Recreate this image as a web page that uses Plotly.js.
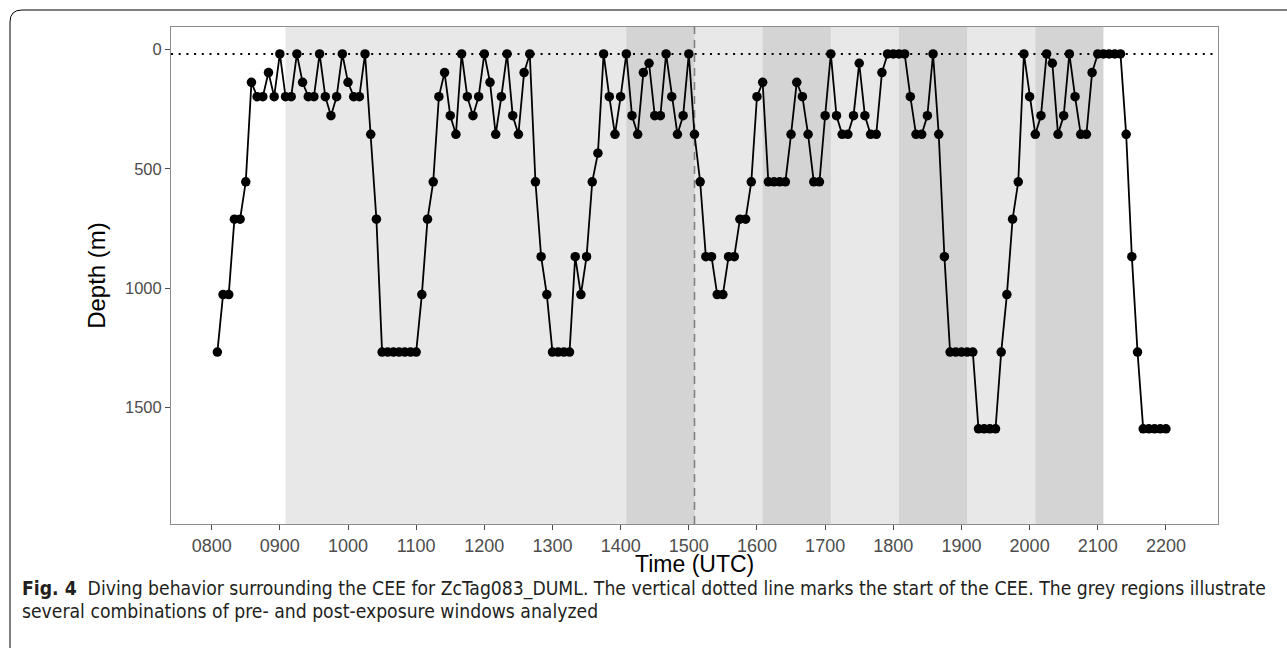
<!DOCTYPE html>
<html>
<head>
<meta charset="utf-8">
<script src="https://cdn.plot.ly/plotly-3.0.1.min.js"></script>
<style>
html,body{margin:0;padding:0;background:#fff;}
#chart{width:1287px;height:648px;}
</style>
</head>
<body>
<div id="chart"></div>
<script>
// Sample times (HHMM, UTC)
var times = [
"0805","0810","0815","0820","0825","0830","0835","0840","0845","0850","0855",
"0900","0905","0910","0915","0920","0925","0930","0935","0940","0945","0950","0955",
"1000","1005","1010","1015","1020","1025","1030","1035","1040","1045","1050","1055",
"1100","1105","1110","1115","1120","1125","1130","1135","1140","1145","1150","1155",
"1200","1205","1210","1215","1220","1225","1230","1235","1240","1245","1250","1255",
"1300","1305","1310","1315","1320","1325","1330","1335","1340","1345","1350","1355",
"1400","1405","1410","1415","1420","1425","1430","1435","1440","1445","1450","1455",
"1500","1505","1510","1515","1520","1525","1530","1535","1540","1545","1550","1555",
"1600","1605","1610","1615","1620","1625","1630","1635","1640","1645","1650","1655",
"1700","1705","1710","1715","1720","1725","1730","1735","1740","1745","1750","1755",
"1800","1805","1810","1815","1820","1825","1830","1835","1840","1845","1850","1855",
"1900","1905","1910","1915","1920","1925","1930","1935","1940","1945","1950","1955",
"2000","2005","2010","2015","2020","2025","2030","2035","2040","2045","2050","2055",
"2100","2105","2110","2115","2120","2125","2130","2135","2140","2145","2150","2155",
"2200"
];
// Depth (m) at each sample
var depths = [
1268,1027,1027,711,711,554,137,197,197,96,197,
18,197,197,18,137,197,197,18,197,277,197,
18,137,197,197,18,355,711,1268,1268,1268,1268,
1268,1268,1268,1027,711,554,197,96,277,355,
18,197,277,197,18,137,355,197,18,277,355,
96,18,554,868,1027,1268,1268,1268,1268,868,1027,
868,554,434,18,197,355,197,18,277,355,96,
57,277,277,18,197,355,277,18,355,554,868,
868,1027,1027,868,868,711,711,554,197,137,554,
554,554,554,355,137,197,355,554,554,277,18,
277,355,355,277,57,277,355,355,96,18,18,
18,18,197,355,355,277,18,355,868,1268,1268,
1268,1268,1268,1590,1590,1590,1590,1268,1027,711,554,
18,197,355,277,18,57,355,277,18,197,355,
355,96,18,18,18,18,18,355,868,1268,1590,
1590,1590,1590,1590
];
var xTickVals = ["0800","0900","1000","1100","1200","1300","1400","1500","1600","1700","1800","1900","2000","2100","2200"];
var yTickVals = [0,500,1000,1500];
var surfaceDepth = 18;
var ceeStart = "1505";
var lightWindow = ["0905","2005"];
var darkWindows = [["1405","1505"],["1605","1705"],["1805","1905"],["2005","2105"]];

function toHours(s){ return parseInt(s.slice(0,2),10) + parseInt(s.slice(2),10)/60; }

var xs = times.map(toHours);

var shapes = [];
shapes.push({type:'rect', xref:'x', yref:'paper', x0:toHours(lightWindow[0]), x1:toHours(lightWindow[1]), y0:0, y1:1,
  fillcolor:'#E8E8E8', line:{width:0}, layer:'below'});
darkWindows.forEach(function(w){
  shapes.push({type:'rect', xref:'x', yref:'paper', x0:toHours(w[0]), x1:toHours(w[1]), y0:0, y1:1,
    fillcolor:'#D4D4D4', line:{width:0}, layer:'below'});
});
shapes.push({type:'line', xref:'paper', yref:'y', x0:0, x1:1, y0:surfaceDepth, y1:surfaceDepth,
  line:{color:'#000', width:2, dash:'2px,5.7px'}, layer:'below'});
shapes.push({type:'line', xref:'x', yref:'paper', x0:toHours(ceeStart), x1:toHours(ceeStart), y0:0, y1:1,
  line:{color:'#808080', width:1.6, dash:'8px,6px'}, layer:'below'});

// outer figure frame with rounded top-left corner
var L = 171, R = 1218, T = 27, B = 524;
var pw = R-L, ph = B-T;
function px(x){ return (x-L)/pw; }
function py(y){ return (B-y)/ph; }
var rr = 12;
var fx0 = px(10), fy1 = py(10), fx1 = px(1300), fy0 = py(660);
shapes.push({type:'path', xref:'paper', yref:'paper',
  path:'M '+fx0+','+fy0+' L '+fx0+','+py(10+rr)+' Q '+fx0+','+fy1+' '+px(10+rr)+','+fy1+' L '+fx1+','+fy1,
  line:{color:'#000', width:1}, fillcolor:'rgba(0,0,0,0)'});

var trace = {
  x: xs, y: depths, type:'scatter', mode:'lines+markers',
  line:{color:'#000', width:1.8},
  marker:{color:'#000', size:9.5},
  hoverinfo:'x+y', showlegend:false, cliponaxis:false
};

var capFont = "'Liberation Sans Narrow','DejaVu Sans Condensed','Liberation Sans',sans-serif";

var layout = {
  width:1287, height:648,
  margin:{l:L, r:1287-R, t:T, b:648-B},
  paper_bgcolor:'#fff', plot_bgcolor:'#fff',
  font:{family:"'Liberation Sans',Arial,sans-serif"},
  xaxis:{
    range:[7.403, 22.764], tickvals:xTickVals.map(toHours), ticktext:xTickVals,
    showgrid:false, zeroline:false, showline:true, linecolor:'#8c8c8c', linewidth:1, mirror:true,
    ticks:'outside', ticklen:5, tickcolor:'#4d4d4d', tickwidth:1,
    ticklabelstandoff:0,
    tickfont:{size:18, color:'#4d4d4d'}
  },
  yaxis:{
    range:[1989, -95], tickvals:yTickVals, ticktext:yTickVals.map(String),
    showgrid:false, zeroline:false, showline:true, linecolor:'#8c8c8c', linewidth:1, mirror:true,
    ticks:'outside', ticklen:5, tickcolor:'#4d4d4d', tickwidth:1,
    tickfont:{size:16.5, color:'#4d4d4d'},
    title:{text:'Depth (m)', font:{size:24, color:'#000'}, standoff:12}
  },
  shapes:shapes,
  annotations:[
    {xref:'paper', yref:'paper', x:0.5, y:py(564), xanchor:'center', yanchor:'middle', showarrow:false,
     text:'Time (UTC)', font:{size:23, color:'#000'}},
    {xref:'paper', yref:'paper', x:px(20), y:py(588), xanchor:'left', yanchor:'middle', showarrow:false,
     text:'<b>Fig. 4</b>  Diving behavior surrounding the CEE for ZcTag083_DUML. The vertical dotted line marks the start of the CEE. The grey regions illustrate',
     font:{family:capFont, size:19.2, color:'#231f20'}},
    {xref:'paper', yref:'paper', x:px(20), y:py(611), xanchor:'left', yanchor:'middle', showarrow:false,
     text:'several combinations of pre- and post-exposure windows analyzed',
     font:{family:capFont, size:19.2, color:'#231f20'}}
  ]
};

Plotly.newPlot('chart', [trace], layout, {displayModeBar:false, staticPlot:true});
</script>
</body>
</html>
